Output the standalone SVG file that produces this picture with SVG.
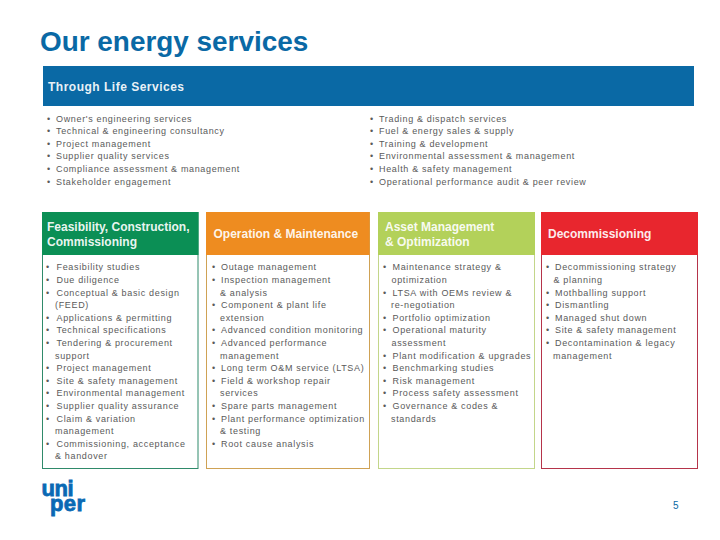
<svg xmlns="http://www.w3.org/2000/svg" width="720" height="540" viewBox="0 0 720 540">
<style>
text{font-family:"Liberation Sans",Arial,sans-serif}
.t{font-size:27.9px;font-weight:bold;fill:#0a69a5}
.h{font-size:12px;font-weight:bold;fill:#fff;fill-opacity:.93}
.w{letter-spacing:.5px}
.b{font-size:9px;fill:#5a5a5a;letter-spacing:.66px}
.logo{font-size:22px;font-weight:bold;fill:#0a69b4;stroke:#0a69b4;stroke-width:.8px}
.n{font-size:10px;fill:#0a69a5}
</style>
<rect width="720" height="540" fill="#fff"/>
<text class="t" x="40" y="51">Our energy services</text>
<g id="through-life">
<rect x="43" y="66" width="651" height="40" fill="#0a69a5"/>
<text class="h w" x="48" y="90.500">Through Life Services</text>
<g class="list">
<text class="b" x="47" y="121.500">•</text><text class="b" x="56" y="121.500">Owner's engineering services</text>
<text class="b" x="47" y="134">•</text><text class="b" x="56" y="134">Technical &amp; engineering consultancy</text>
<text class="b" x="47" y="146.500">•</text><text class="b" x="56" y="146.500">Project management</text>
<text class="b" x="47" y="159">•</text><text class="b" x="56" y="159">Supplier quality services</text>
<text class="b" x="47" y="171.500">•</text><text class="b" x="56" y="171.500">Compliance assessment &amp; management</text>
<text class="b" x="47" y="184.500">•</text><text class="b" x="56" y="184.500">Stakeholder engagement</text>
<text class="b" x="370" y="121.500">•</text><text class="b" x="379" y="121.500">Trading &amp; dispatch services</text>
<text class="b" x="370" y="134">•</text><text class="b" x="379" y="134">Fuel &amp; energy sales &amp; supply</text>
<text class="b" x="370" y="146.500">•</text><text class="b" x="379" y="146.500">Training &amp; development</text>
<text class="b" x="370" y="159">•</text><text class="b" x="379" y="159">Environmental assessment &amp; management</text>
<text class="b" x="370" y="171.500">•</text><text class="b" x="379" y="171.500">Health &amp; safety management</text>
<text class="b" x="370" y="184.500">•</text><text class="b" x="379" y="184.500">Operational performance audit &amp; peer review</text>
</g>
</g>
<g id="feasibility">
<rect x="42.500" y="212.500" width="155.500" height="256" fill="#fff" stroke="#2f8a6a"/>
<rect x="42" y="212" width="156.500" height="43" fill="#0b8f55"/>
<text class="h" x="47" y="231">Feasibility, Construction,</text>
<text class="h" x="47" y="246">Commissioning</text>
<text class="b" x="46" y="270">•</text><text class="b" x="56.500" y="270">Feasibility studies</text>
<text class="b" x="46" y="283">•</text><text class="b" x="56.500" y="283">Due diligence</text>
<text class="b" x="46" y="296">•</text><text class="b" x="56.500" y="296">Conceptual &amp; basic design</text>
<text class="b" x="55" y="308">(FEED)</text>
<text class="b" x="46" y="321">•</text><text class="b" x="56.500" y="321">Applications &amp; permitting</text>
<text class="b" x="46" y="333">•</text><text class="b" x="56.500" y="333">Technical specifications</text>
<text class="b" x="46" y="346">•</text><text class="b" x="56.500" y="346">Tendering &amp; procurement</text>
<text class="b" x="55" y="359">support</text>
<text class="b" x="46" y="371">•</text><text class="b" x="56.500" y="371">Project management</text>
<text class="b" x="46" y="384">•</text><text class="b" x="56.500" y="384">Site &amp; safety management</text>
<text class="b" x="46" y="396">•</text><text class="b" x="56.500" y="396">Environmental management</text>
<text class="b" x="46" y="409">•</text><text class="b" x="56.500" y="409">Supplier quality assurance</text>
<text class="b" x="46" y="422">•</text><text class="b" x="56.500" y="422">Claim &amp; variation</text>
<text class="b" x="55" y="434">management</text>
<text class="b" x="46" y="447">•</text><text class="b" x="56.500" y="447">Commissioning, acceptance</text>
<text class="b" x="55" y="459">&amp; handover</text>
</g>
<g id="operation">
<rect x="206.500" y="212.500" width="163" height="256" fill="#fff" stroke="#cfa255"/>
<rect x="206" y="212" width="163.500" height="43" fill="#ee8c20"/>
<text class="h" x="213.500" y="238">Operation &amp; Maintenance</text>
<text class="b" x="212" y="270">•</text><text class="b" x="221" y="270">Outage management</text>
<text class="b" x="212" y="283">•</text><text class="b" x="221" y="283">Inspection management</text>
<text class="b" x="220" y="296">&amp; analysis</text>
<text class="b" x="212" y="308">•</text><text class="b" x="221" y="308">Component &amp; plant life</text>
<text class="b" x="220" y="321">extension</text>
<text class="b" x="212" y="333">•</text><text class="b" x="221" y="333">Advanced condition monitoring</text>
<text class="b" x="212" y="346">•</text><text class="b" x="221" y="346">Advanced performance</text>
<text class="b" x="220" y="359">management</text>
<text class="b" x="212" y="371">•</text><text class="b" x="221" y="371">Long term O&amp;M service (LTSA)</text>
<text class="b" x="212" y="384">•</text><text class="b" x="221" y="384">Field &amp; workshop repair</text>
<text class="b" x="220" y="396">services</text>
<text class="b" x="212" y="409">•</text><text class="b" x="221" y="409">Spare parts management</text>
<text class="b" x="212" y="422">•</text><text class="b" x="221" y="422">Plant performance optimization</text>
<text class="b" x="220" y="434">&amp; testing</text>
<text class="b" x="212" y="447">•</text><text class="b" x="221" y="447">Root cause analysis</text>
</g>
<g id="asset">
<rect x="378.500" y="212.500" width="156" height="256" fill="#fff" stroke="#c3d68a"/>
<rect x="378" y="212" width="157" height="43" fill="#b3d15a"/>
<text class="h" x="385" y="231">Asset Management</text>
<text class="h" x="385" y="246">&amp; Optimization</text>
<text class="b" x="383" y="270">•</text><text class="b" x="392.500" y="270">Maintenance strategy &amp;</text>
<text class="b" x="391.500" y="283">optimization</text>
<text class="b" x="383" y="296">•</text><text class="b" x="392.500" y="296">LTSA with OEMs review &amp;</text>
<text class="b" x="391" y="308">re-negotiation</text>
<text class="b" x="383" y="321">•</text><text class="b" x="392.500" y="321">Portfolio optimization</text>
<text class="b" x="383" y="333">•</text><text class="b" x="392.500" y="333">Operational maturity</text>
<text class="b" x="391.500" y="346">assessment</text>
<text class="b" x="383" y="359">•</text><text class="b" x="392.500" y="359">Plant modification &amp; upgrades</text>
<text class="b" x="383" y="371">•</text><text class="b" x="392.500" y="371">Benchmarking studies</text>
<text class="b" x="383" y="384">•</text><text class="b" x="392.500" y="384">Risk management</text>
<text class="b" x="383" y="396">•</text><text class="b" x="392.500" y="396">Process safety assessment</text>
<text class="b" x="383" y="409">•</text><text class="b" x="392.500" y="409">Governance &amp; codes &amp;</text>
<text class="b" x="391" y="422">standards</text>
</g>
<g id="decommissioning">
<rect x="541.500" y="212.500" width="156" height="256" fill="#fff" stroke="#b5344a"/>
<rect x="541" y="212" width="157" height="43" fill="#e8262e"/>
<text class="h" x="548" y="238">Decommissioning</text>
<text class="b" x="546" y="270">•</text><text class="b" x="555" y="270">Decommissioning strategy</text>
<text class="b" x="553.500" y="283">&amp; planning</text>
<text class="b" x="546" y="296">•</text><text class="b" x="555" y="296">Mothballing support</text>
<text class="b" x="546" y="308">•</text><text class="b" x="555" y="308">Dismantling</text>
<text class="b" x="546" y="321">•</text><text class="b" x="555" y="321">Managed shut down</text>
<text class="b" x="546" y="333">•</text><text class="b" x="555" y="333">Site &amp; safety management</text>
<text class="b" x="546" y="346">•</text><text class="b" x="555" y="346">Decontamination &amp; legacy</text>
<text class="b" x="553" y="359">management</text>
</g>
<g id="logo">
<text class="logo" x="41.500" y="495.500" letter-spacing="-.4">uni</text>
<text class="logo" x="50" y="510.500" letter-spacing=".4">per</text>
</g>
<text class="n" x="673" y="509">5</text>
</svg>
